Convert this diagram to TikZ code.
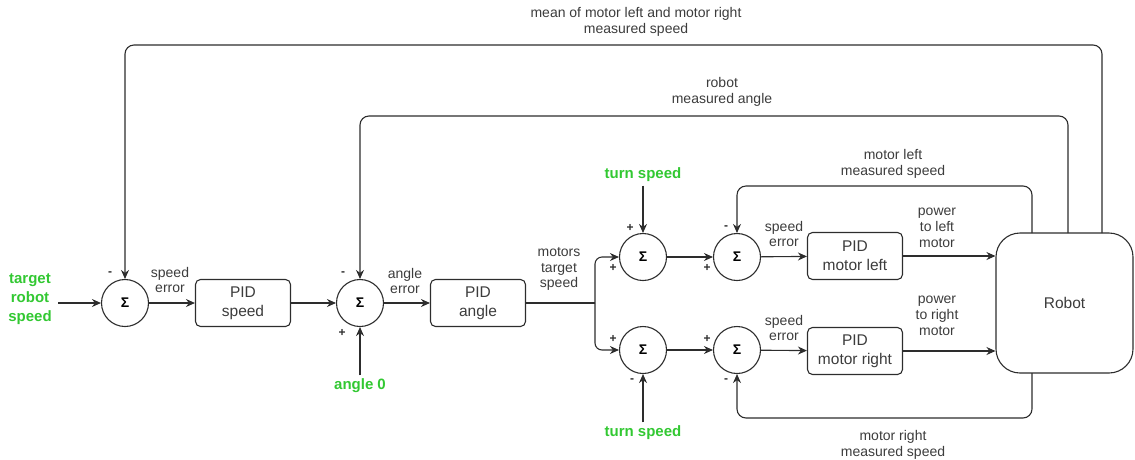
\documentclass[tikz,border=0pt]{standalone}
\usepackage{fontspec}
\setmainfont{Liberation Sans}
\usetikzlibrary{arrows.meta}
\definecolor{lineColor}{RGB}{45,45,45}
\definecolor{labelColor}{RGB}{60,60,60}
\definecolor{inputColor}{RGB}{50,200,50}
\tikzstyle{diagram} = [x = 1pt, y = -1pt]
\tikzstyle{sumStyle} = [draw=lineColor, circle, minimum size=47pt, inner sep=0pt, line width=1.1pt, font=\bfseries\fontsize{14}{15}\selectfont]
\tikzstyle{pidStyle} = [draw=lineColor, rounded corners=5pt, minimum width=95pt, minimum height=47pt, line width=1.1pt, align=center, text=labelColor, font=\fontsize{15.5}{19}\selectfont]
\tikzstyle{robotStyle} = [draw=lineColor, rounded corners=24pt, minimum width=137pt, minimum height=140pt, line width=1.1pt, text=labelColor, font=\fontsize{15.5}{19}\selectfont]
\tikzstyle{wire} = [draw=lineColor, line width=1.1pt]
\tikzstyle{signal} = [wire, -{Stealth[length=9pt,width=8pt]}]
\tikzstyle{loop} = [signal, rounded corners=9pt]
\tikzstyle{labelText} = [align=center, text=labelColor, font=\fontsize{14}{15.8}\selectfont]
\tikzstyle{inputText} = [align=center, text=inputColor, font=\bfseries\fontsize{15}{19}\selectfont]
\tikzstyle{signText} = [inner sep=0pt, text=lineColor, font=\bfseries\fontsize{12}{12}\selectfont]
\newcommand{\sumNode}[3]{\node [sumStyle] (#1) at (#2,#3) {Σ};}
\newcommand{\pidNode}[4]{\node [pidStyle] (#1) at (#2,#3) {#4};}
\newcommand{\signAt}[4]{\node [signText] (#1) at (#2,#3) {#4};}

\begin{document}
\begin{tikzpicture}[diagram]
  \useasboundingbox (0,0) rectangle (1135,459);

  % inputs
  \node [inputText] (targetSpeed) at (30,299) {target\\robot\\speed};
  \node [inputText] (angleZero) at (360,386) {angle 0};
  \node [inputText] (turnUp) at (643,175) {turn speed};
  \node [inputText] (turnDown) at (643,433) {turn speed};

  % summing junctions and controllers
  \sumNode{sumSpeed}{125}{303}
  \sumNode{sumAngle}{360}{303}
  \sumNode{sumTurnL}{643}{257}
  \sumNode{sumTurnR}{643}{350}
  \sumNode{sumLeft}{737}{257}
  \sumNode{sumRight}{737}{350}
  \pidNode{pidSpeed}{243}{303}{PID\\speed}
  \pidNode{pidAngle}{478}{303}{PID\\angle}
  \pidNode{pidLeft}{855}{256}{PID\\motor left}
  \pidNode{pidRight}{855}{351}{PID\\motor right}
  \node [robotStyle] (robot) at (1064.5,303) {Robot};

  % signs
  \signAt{sgnSpeedA}{110}{274}{-}
  \signAt{sgnAngleA}{343}{274}{-}
  \signAt{sgnAngleB}{342}{333}{+}
  \signAt{sgnTurnLA}{630}{228}{+}
  \signAt{sgnTurnLB}{613}{268}{+}
  \signAt{sgnTurnRA}{613}{339}{+}
  \signAt{sgnTurnRB}{632}{381}{-}
  \signAt{sgnLeftA}{726}{228}{-}
  \signAt{sgnLeftB}{707}{268}{+}
  \signAt{sgnRightA}{707}{339}{+}
  \signAt{sgnRightB}{726}{381}{-}

  % labels
  \node [labelText] (lblMean) at (636,22) {mean of motor left and motor right\\measured speed};
  \node [labelText] (lblAngle) at (722,92) {robot\\measured angle};
  \node [labelText] (lblLeftMeas) at (893,164) {motor left\\measured speed};
  \node [labelText] (lblRightMeas) at (893,445) {motor right\\measured speed};
  \node [labelText] (lblSpeedErr) at (170,280) {speed\\error};
  \node [labelText] (lblAngleErr) at (405,281) {angle\\error};
  \node [labelText] (lblMotors) at (559,269) {motors\\target\\speed};
  \node [labelText] (lblLeftErr) at (784,234) {speed\\error};
  \node [labelText] (lblRightErr) at (784,328) {speed\\error};
  \node [labelText] (lblPowerL) at (937,228) {power\\to left\\motor};
  \node [labelText] (lblPowerR) at (937,316) {power\\to right\\motor};

  % helper coordinates
  \coordinate (targetEnd) at (58,303);
  \coordinate (branch) at (595,303);
  \coordinate (meanOut) at (1102,233);
  \coordinate (angleOut) at (1068,233);
  \coordinate (leftOut) at (1032,233);
  \coordinate (rightOut) at (1032,373);
  \coordinate (meanTop) at (0,45);
  \coordinate (angleTop) at (0,116);
  \coordinate (leftTop) at (0,186);
  \coordinate (rightBottom) at (0,418);

  % forward path
  \draw [signal] (targetEnd) -- (sumSpeed.west);
  \draw [signal] (sumSpeed) -- (pidSpeed);
  \draw [signal] (pidSpeed.east) -- (sumAngle.west);
  \draw [signal] (angleZero.north) -- (sumAngle.south);
  \draw [signal] (sumAngle) -- (pidAngle);
  \draw [wire] (pidAngle.east) -- (branch);
  \draw [signal, rounded corners=7pt] (branch) |- (sumTurnL.west);
  \draw [signal, rounded corners=7pt] (branch) |- (sumTurnR.west);
  \draw [signal] (turnUp.south) -- (sumTurnL.north);
  \draw [signal] (turnDown.north) -- (sumTurnR.south);
  \draw [signal] (sumTurnL) -- (sumLeft);
  \draw [signal] (sumTurnR) -- (sumRight);
  \draw [signal] (sumLeft) -- (pidLeft);
  \draw [signal] (sumRight) -- (pidRight);
  \draw [signal] (pidLeft.east) -- (pidLeft.east -| robot.west);
  \draw [signal] (pidRight.east) -- (pidRight.east -| robot.west);

  % feedback paths
  \draw [loop] (meanOut) -- (meanOut |- meanTop) -| (sumSpeed.north);
  \draw [loop] (angleOut) -- (angleOut |- angleTop) -| (sumAngle.north);
  \draw [loop] (leftOut) -- (leftOut |- leftTop) -| (sumLeft.north);
  \draw [loop] (rightOut) -- (rightOut |- rightBottom) -| (sumRight.south);
\end{tikzpicture}
\end{document}
